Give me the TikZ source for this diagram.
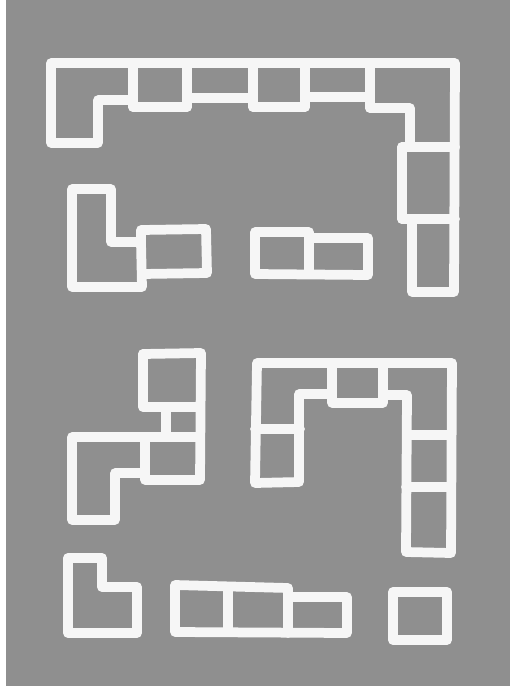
\documentclass[tikz,border=0pt]{standalone}
\usepackage{xcolor}
\usepackage{tikz}

\definecolor{board}{RGB}{143,143,143}
\definecolor{chalk}{RGB}{246,246,246}

\begin{document}
\begin{tikzpicture}[x=0.2mm, y=-0.2mm,
    plan/.style={draw=chalk, line width=\lw, line join=round, line cap=round}]
  \def\lw{1.95mm}

  \useasboundingbox (0,0) rectangle (510,686);
  \fill[white] (0,0) rectangle (510,686);
  \fill[board] (6,0) rectangle (510,686);

  % top block
  \draw[plan] (51,63) -- (455,63) -- (454,292) -- (412,292) -- (412,219) -- (402,219)
      -- (402,147) -- (410,147) -- (410,108) -- (370,108) -- (370,97) -- (305,97)
      -- (305,107) -- (253,107) -- (253,98) -- (187,98) -- (187,107) -- (133,107)
      -- (133,100) -- (98,100) -- (98,143) -- (51,143) -- cycle;
  \foreach \xx/\yy in {133/107, 187/107, 253/107, 305/107, 370/108}
    \draw[plan] (\xx,63) -- (\xx,\yy);
  \draw[plan] (402,147) -- (455,147);
  \draw[plan] (402,219) -- (455,219);

  % left L with cell
  \draw[plan] (72,189) -- (111,189) -- (111,242) -- (141,242) -- (142,287)
      -- (72,287) -- cycle;
  \draw[plan] (141,242) -- (141,230) -- (206,229) -- (207,273) -- (142,274);

  % domino
  \draw[plan] (255,232) -- (309,232) -- (309,238) -- (368,238) -- (368,275)
      -- (255,274) -- cycle;
  \draw[plan] (309,238) -- (309,274);

  % lower left cluster
  \draw[plan] (143,354) -- (201,353) -- (200,480) -- (145,480) -- (145,473)
      -- (115,473) -- (115,520) -- (72,520) -- (72,437) -- (200,437);
  \draw[plan] (143,354) -- (143,407) -- (200,407);
  \draw[plan] (166,407) -- (166,437);
  \draw[plan] (145,437) -- (145,473);

  % lower right block
  \draw[plan] (257,363) -- (452,363) -- (451,553) -- (406,552) -- (407,395)
      -- (383,395) -- (383,403) -- (332,403) -- (332,394) -- (299,394)
      -- (299,482) -- (255,483) -- cycle;
  \draw[plan] (332,363) -- (332,394);
  \draw[plan] (383,363) -- (383,395);
  \draw[plan] (255,429) -- (300,429);
  \draw[plan] (407,435) -- (451,435);
  \draw[plan] (406,487) -- (451,487);

  % bottom row
  \draw[plan] (68,558) -- (102,558) -- (102,587) -- (137,587) -- (137,633)
      -- (68,633) -- cycle;
  \draw[plan] (175,585) -- (288,588) -- (288,597) -- (347,597) -- (347,633)
      -- (175,632) -- cycle;
  \draw[plan] (228,587) -- (228,632);
  \draw[plan] (288,597) -- (288,633);
  \draw[plan] (393,592) -- (447,592) -- (447,640) -- (393,640) -- cycle;
\end{tikzpicture}
\end{document}
